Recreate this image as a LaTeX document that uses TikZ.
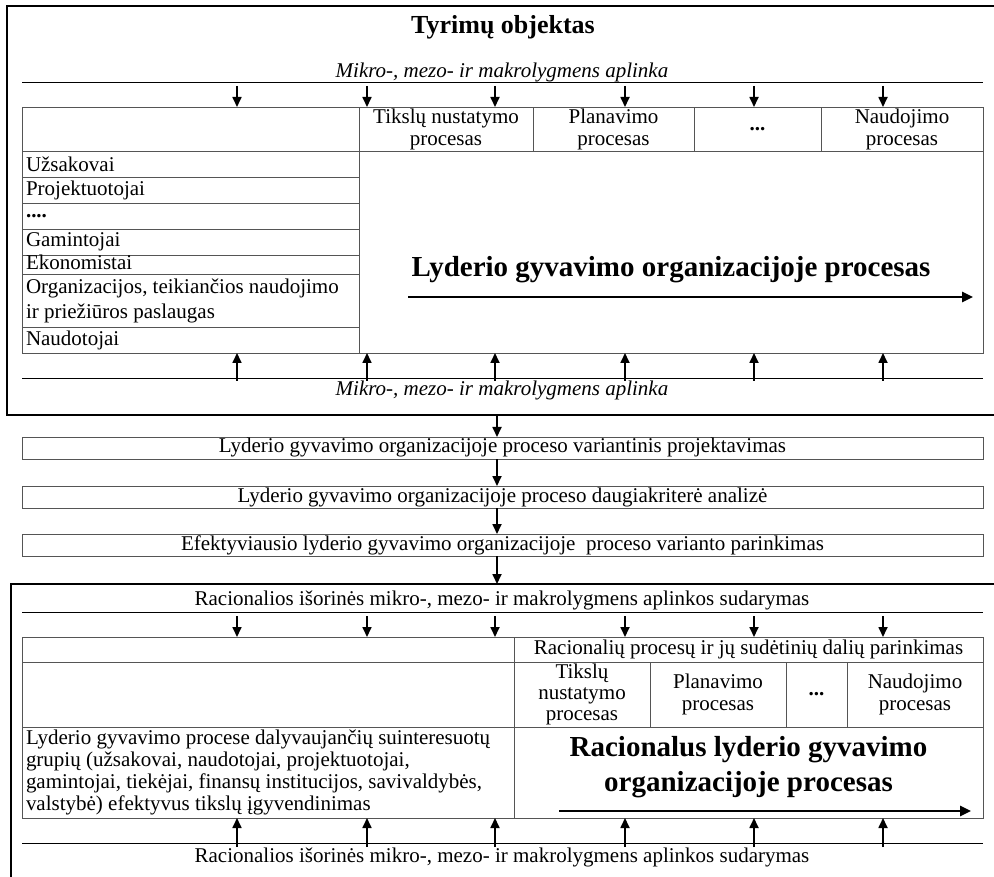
\documentclass[tikz,border=0pt]{standalone}
\usepackage{fontspec}
\setmainfont{Liberation Serif}
\usetikzlibrary{arrows.meta}
\definecolor{tline}{RGB}{85,85,85}
\begin{document}
\begin{tikzpicture}[x=1pt,y=-1pt,
  body/.style={font=\fontsize{21}{22}\selectfont},
  cell/.style={draw=tline, line width=0.9pt, inner sep=0pt, outer sep=0pt, anchor=north west, align=center, body},
  lcell/.style={cell, align=flush left, inner xsep=4pt, text width=#1},
  box/.style={draw=tline, line width=0.9pt, inner sep=0pt, outer sep=0pt, minimum width=961pt, minimum height=22pt, text height=15pt, text depth=5pt, body},
  arr/.style={line width=1.7pt, -{Triangle[length=10pt,width=9pt]}},
  bigarr/.style={line width=2.6pt, -{Triangle[length=11pt,width=10pt]}},
  frame/.style={line width=2pt, black},
  envline/.style={line width=0.9pt, black},
  bigtext/.style={font=\fontsize{29}{35}\selectfont\bfseries, align=center, inner sep=0pt}
]
\useasboundingbox (0,0) rectangle (994,877);

% ---------- top frame ----------
\draw[frame] (994,6) -- (7,6) -- (7,415) -- (994,415);
\node[font=\fontsize{26}{30}\selectfont\bfseries, inner sep=0pt] (title) at (503,27) {Tyrimų objektas};
\node[body, font=\fontsize{21}{22}\selectfont\itshape, inner sep=0pt] (envtop) at (502,72) {Mikro-, mezo- ir makrolygmens aplinka};
\draw[envline] (22,82) -- (983,82);

% header row
\node[cell, minimum width=337pt, minimum height=44pt] (th0) at (22,107) {};
\node[cell, minimum width=174pt, minimum height=44pt] (th1) at (359,107) {Tikslų nustatymo\\procesas};
\node[cell, minimum width=161pt, minimum height=44pt] (th2) at (533,107) {Planavimo\\procesas};
\node[cell, minimum width=127pt, minimum height=44pt] (th3) at (694,107) {\textbf{...}};
\node[cell, minimum width=162pt, minimum height=44pt] (th4) at (821,107) {Naudojimo\\procesas};

% left list
\node[lcell=329pt, minimum height=26pt] (r1) at (22,151) {Užsakovai};
\node[lcell=329pt, minimum height=26pt] (r2) at (22,177) {Projektuotojai};
\node[lcell=329pt, minimum height=26pt] (r3) at (22,203) {\textbf{....}};
\node[lcell=329pt, minimum height=26pt] (r4) at (22,229) {Gamintojai};
\node[lcell=329pt, minimum height=19pt, text height=14pt, text depth=4pt] (r5) at (22,255) {Ekonomistai};
\node[lcell=329pt, minimum height=53pt, font=\fontsize{21}{25}\selectfont] (r6) at (22,274) {Organizacijos, teikiančios naudojimo\\ir priežiūros paslaugas};
\node[lcell=329pt, minimum height=26pt] (r7) at (22,327) {Naudotojai};

% main cell
\node[cell, minimum width=624pt, minimum height=202pt] (big) at (359,151) {};
\node[bigtext] (bigtxt) at (671,270) {Lyderio gyvavimo organizacijoje procesas};
\coordinate (bas) at (408,297);
\coordinate (bae) at (973,297);
\draw[bigarr] (bas) -- (bae);

% arrows in / out
\foreach \x [count=\i] in {237,367,495,625,754,883} {
  \coordinate (td\i) at (\x,86);
  \draw[arr] (td\i) -- (td\i |- th0.north);
  \coordinate (tu\i) at (\x,381);
  \draw[arr] (tu\i) -- (tu\i |- big.south);
}
\draw[envline] (22,378) -- (983,378);
\node[font=\fontsize{21}{22}\selectfont\itshape, inner sep=0pt] (envbot) at (502,390) {Mikro-, mezo- ir makrolygmens aplinka};

% ---------- middle boxes ----------
\node[box] (b1) at (502.5,448) {Lyderio gyvavimo organizacijoje proceso variantinis projektavimas};
\node[box] (b2) at (502.5,497) {Lyderio gyvavimo organizacijoje proceso daugiakriterė analizė};
\node[box] (b3) at (502.5,545) {Efektyviausio lyderio gyvavimo organizacijoje\ \ proceso varianto parinkimas};
\coordinate (ma) at (497,415);
\coordinate (mb) at (497,584);
\draw[arr] (ma) -- (ma |- b1.north);
\draw[arr] (b1.south -| ma) -- (b2.north -| ma);
\draw[arr] (b2.south -| ma) -- (b3.north -| ma);
\draw[arr] (b3.south -| ma) -- (mb);

% ---------- bottom frame ----------
\draw[frame] (994,584) -- (11,584) -- (11,877);
\node[body, inner sep=0pt] (renvtop) at (502,600) {Racionalios išorinės mikro-, mezo- ir makrolygmens aplinkos sudarymas};
\draw[envline] (22,612) -- (983,612);

\node[cell, minimum width=492pt, minimum height=25pt] (q0) at (22,637) {};
\node[cell, minimum width=469pt, minimum height=25pt] (q1) at (514,637) {Racionalių procesų ir jų sudėtinių dalių parinkimas};

\node[cell, minimum width=492pt, minimum height=65pt] (p0) at (22,662) {};
\node[cell, minimum width=136pt, minimum height=65pt, font=\fontsize{21}{20.6}\selectfont] (p1) at (514,662) {Tikslų\\nustatymo\\procesas};
\node[cell, minimum width=136pt, minimum height=65pt] (p2) at (650,662) {Planavimo\\procesas};
\node[cell, minimum width=61pt, minimum height=65pt] (p3) at (786,662) {\textbf{...}};
\node[cell, minimum width=136pt, minimum height=65pt] (p4) at (847,662) {Naudojimo\\procesas};

\node[lcell=484pt, minimum height=91pt] (s0) at (22,727) {Lyderio gyvavimo procese dalyvaujančių suinteresuotų\\grupių (užsakovai, naudotojai, projektuotojai,\\gamintojai, tiekėjai, finansų institucijos, savivaldybės,\\valstybė) efektyvus tikslų įgyvendinimas};
\node[cell, minimum width=469pt, minimum height=91pt] (s1) at (514,727) {};
\node[bigtext] (rbigtxt) at (748.5,767) {Racionalus lyderio gyvavimo\\organizacijoje procesas};
\coordinate (ras) at (559,811);
\coordinate (rae) at (971,811);
\draw[bigarr] (ras) -- (rae);

\foreach \x [count=\i] in {237,367,495,625,754,883} {
  \coordinate (bd\i) at (\x,616);
  \draw[arr] (bd\i) -- (bd\i |- q0.north);
  \coordinate (bu\i) at (\x,847);
  \draw[arr] (bu\i) -- (bu\i |- s0.south);
}
\draw[envline] (22,843) -- (983,843);
\node[body, inner sep=0pt] (renvbot) at (502,857) {Racionalios išorinės mikro-, mezo- ir makrolygmens aplinkos sudarymas};
\end{tikzpicture}
\end{document}
